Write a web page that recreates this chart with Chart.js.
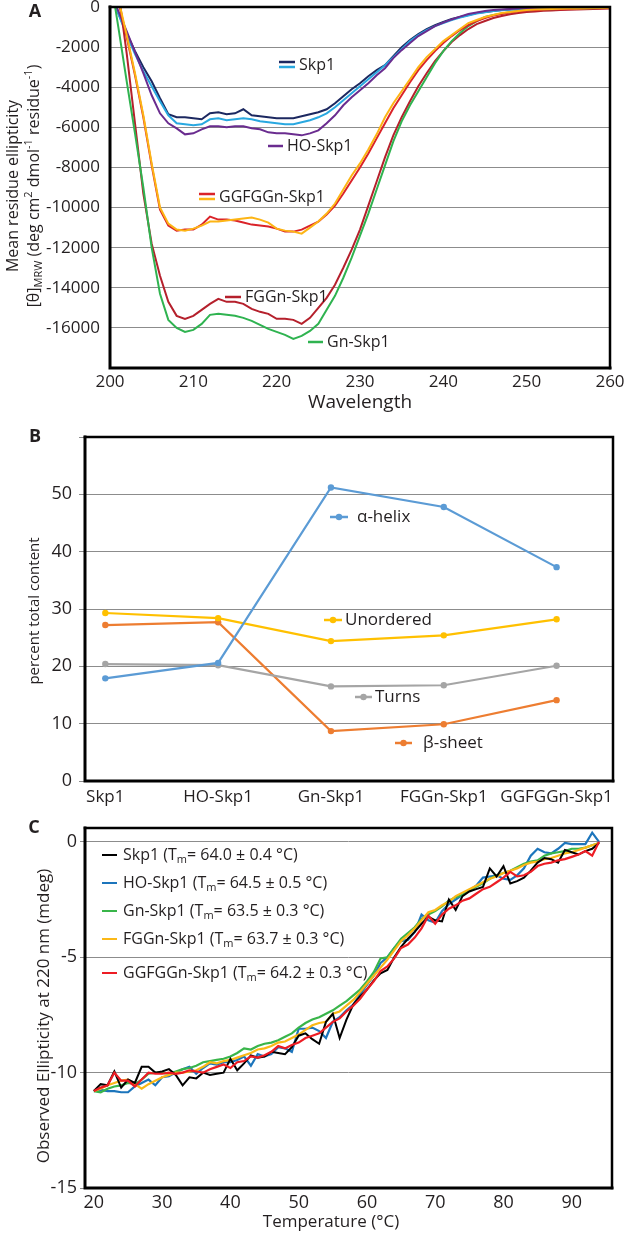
<!DOCTYPE html>
<html>
<head>
<meta charset="utf-8">
<script src="https://cdn.jsdelivr.net/npm/chart.js@4.4.1/dist/chart.umd.min.js"></script>
<style>
  html, body { margin: 0; padding: 0; background: #fff; }
  #page { position: relative; width: 625px; height: 1235px; overflow: hidden; background: #fff; }
  #page canvas { position: absolute; left: 0; }
</style>
</head>
<body>
<div id="page">
  <canvas id="chartA" width="625" height="415" style="top:0px"></canvas>
  <canvas id="chartB" width="625" height="395" style="top:415px"></canvas>
  <canvas id="chartC" width="625" height="425" style="top:810px"></canvas>
</div>
<script>
// ---- Panel A: CD spectra (mean residue ellipticity vs wavelength) ----
const wavelengths = [200, 201, 202, 203, 204, 205, 206, 207, 208, 209, 210, 211, 212, 213, 214, 215, 216, 217, 218, 219,
  220, 221, 222, 223, 224, 225, 226, 227, 228, 229, 230, 231, 232, 233, 234, 235, 236, 237, 238, 239,
  240, 241, 242, 243, 244, 245, 246, 247, 248, 249, 250, 251, 252, 253, 254, 255, 256, 257, 258, 259, 260];

const skp1Dark = [800, -300, -1300, -2200, -3000, -3700, -4550, -5350, -5500, -5500, -5550, -5600, -5300, -5250, -5350, -5300, -5100, -5400, -5450, -5500,
  -5550, -5550, -5550, -5450, -5350, -5250, -5100, -4800, -4450, -4100, -3800, -3450, -3150, -2900, -2450, -2000, -1650, -1350, -1100, -900,
  -750, -600, -500, -400, -300, -250, -200, -150, -120, -100, -80, -60, -50, -50, -40, -40, -30, -30, -20, -20, -10];
const skp1Light = [800, -350, -1400, -2350, -3200, -3950, -4700, -5400, -5800, -5850, -5900, -5850, -5600, -5550, -5650, -5600, -5550, -5600, -5700, -5750,
  -5800, -5850, -5850, -5750, -5650, -5500, -5300, -5000, -4650, -4300, -3950, -3600, -3250, -2900, -2500, -2100, -1700, -1400, -1150, -950,
  -800, -650, -520, -420, -330, -260, -200, -160, -130, -100, -80, -60, -50, -50, -40, -40, -30, -30, -20, -20, -10];
const hoSkp1 = [800, -200, -1200, -2250, -3300, -4400, -5300, -5800, -6050, -6350, -6300, -6100, -5950, -5950, -6000, -5950, -5950, -6050, -6100, -6250,
  -6300, -6300, -6350, -6400, -6300, -6150, -5800, -5400, -4900, -4500, -4150, -3800, -3400, -3050, -2550, -2150, -1800, -1450, -1200, -950,
  -780, -620, -480, -350, -270, -200, -150, -120, -100, -80, -60, -50, -40, -40, -30, -30, -20, -20, -10, -10, 0];
const ggfggnRed = [1800, 300, -1500, -3400, -5500, -7900, -10100, -10900, -11150, -11100, -11100, -10850, -10450, -10600, -10600, -10650, -10750, -10850, -10900, -10950,
  -11050, -11200, -11200, -11100, -10900, -10700, -10350, -9900, -9300, -8650, -8000, -7300, -6550, -5800, -5050, -4400, -3750, -3150, -2650, -2200,
  -1800, -1450, -1150, -900, -700, -550, -430, -350, -280, -230, -190, -160, -140, -120, -110, -100, -90, -80, -70, -60, -50];
const ggfggnYellow = [1800, 400, -1400, -3300, -5400, -7800, -10000, -10800, -11100, -11150, -11050, -10900, -10700, -10700, -10650, -10600, -10550, -10500, -10600, -10750,
  -11050, -11150, -11200, -11300, -11000, -10700, -10300, -9800, -9100, -8400, -7800, -7100, -6350, -5500, -4800, -4200, -3600, -3000, -2500, -2100,
  -1700, -1400, -1100, -800, -650, -500, -400, -300, -250, -200, -150, -130, -110, -100, -90, -80, -70, -60, -50, -50, -40];
const fggnSkp1 = [2000, 800, -2300, -5800, -9300, -11800, -13400, -14700, -15400, -15550, -15400, -15100, -14800, -14550, -14700, -14700, -14800, -15050, -15200, -15300,
  -15550, -15550, -15600, -15800, -15500, -15000, -14500, -13850, -13000, -12100, -11100, -9900, -8700, -7500, -6400, -5500, -4700, -3950, -3300, -2700,
  -2200, -1750, -1400, -1100, -850, -700, -550, -450, -360, -300, -250, -220, -190, -170, -150, -140, -130, -110, -100, -90, -80];
const gnSkp1 = [1600, -1000, -3700, -6300, -9000, -12000, -14300, -15600, -16000, -16200, -16100, -15800, -15350, -15300, -15350, -15400, -15500, -15650, -15850, -16050,
  -16200, -16350, -16550, -16400, -16150, -15800, -15100, -14400, -13500, -12500, -11400, -10300, -9100, -7900, -6700, -5700, -4900, -4200, -3500, -2800,
  -2200, -1700, -1300, -950, -700, -500, -400, -320, -260, -200, -170, -150, -130, -110, -100, -90, -80, -70, -60, -50, -50];

// ---- Panel B: secondary structure content ----
const constructs = ['Skp1', 'HO-Skp1', 'Gn-Skp1', 'FGGn-Skp1', 'GGFGGn-Skp1'];
const alphaHelix = [17.9, 20.6, 51.2, 47.8, 37.3];
const unordered = [29.3, 28.4, 24.4, 25.4, 28.2];
const turns = [20.4, 20.2, 16.5, 16.7, 20.1];
const betaSheet = [27.2, 27.7, 8.7, 9.9, 14.1];

// ---- Panel C: thermal melts at 220 nm ----
const temps = [20, 21, 22, 23, 24, 25, 26, 27, 28, 29, 30, 31, 32, 33, 34, 35, 36, 37, 38, 39,
  40, 41, 42, 43, 44, 45, 46, 47, 48, 49, 50, 51, 52, 53, 54, 55, 56, 57, 58, 59,
  60, 61, 62, 63, 64, 65, 66, 67, 68, 69, 70, 71, 72, 73, 74, 75, 76, 77, 78, 79,
  80, 81, 82, 83, 84, 85, 86, 87, 88, 89, 90, 91, 92, 93, 94];
const meltSkp1 = [-10.8, -10.5, -10.55, -9.95, -10.65, -10.3, -10.45, -9.75, -9.75, -10.0, -9.95, -9.85, -10.1, -10.55, -10.2, -10.25, -10.0, -10.1, -10.05, -10.0,
  -9.4, -9.9, -9.6, -9.25, -9.35, -9.3, -9.1, -9.15, -9.2, -8.9, -8.4, -8.3, -8.55, -8.75, -7.8, -7.45, -8.5, -7.7, -7.05, -6.7,
  -6.4, -6.0, -5.7, -5.55, -5.0, -4.55, -4.2, -3.9, -3.55, -3.25, -3.4, -3.45, -2.5, -2.95, -2.35, -2.15, -2.05, -1.95, -1.15, -1.5,
  -1.05, -1.8, -1.7, -1.55, -1.25, -0.9, -0.7, -0.75, -0.9, -0.35, -0.45, -0.55, -0.4, -0.3, -0.05];
const meltHO = [-10.8, -10.75, -10.8, -10.8, -10.85, -10.85, -10.6, -10.45, -10.3, -10.55, -10.2, -10.15, -10.0, -9.85, -9.75, -10.05, -9.8, -9.6, -9.65, -9.55,
  -9.55, -9.45, -9.3, -9.7, -9.2, -9.3, -9.2, -8.9, -8.95, -9.1, -8.1, -8.1, -8.05, -8.2, -8.5, -7.8, -7.6, -7.3, -7.05, -6.6,
  -6.2, -5.8, -5.25, -5.0, -4.6, -4.3, -4.25, -3.9, -3.15, -3.4, -3.5, -3.0, -2.7, -2.5, -2.3, -2.1, -1.9, -1.55, -1.5, -1.45,
  -1.6, -1.65, -1.45, -1.15, -0.6, -0.3, -0.45, -0.5, -0.3, -0.05, -0.1, -0.1, -0.1, 0.4, 0.0];
const meltGn = [-10.8, -10.85, -10.7, -10.6, -10.55, -10.45, -10.5, -10.3, -10.05, -10.0, -10.0, -10.05, -9.95, -9.85, -9.8, -9.7, -9.55, -9.5, -9.45, -9.4,
  -9.3, -9.15, -8.95, -9.0, -8.85, -8.75, -8.7, -8.6, -8.45, -8.3, -8.05, -7.85, -7.7, -7.6, -7.45, -7.3, -7.1, -6.9, -6.65, -6.4,
  -6.05, -5.65, -5.05, -5.0, -4.6, -4.2, -3.95, -3.7, -3.35, -3.15, -3.0, -2.8, -2.55, -2.4, -2.3, -2.1, -1.95, -1.8, -1.6, -1.45,
  -1.35, -1.25, -1.1, -0.95, -0.85, -0.8, -0.6, -0.5, -0.45, -0.4, -0.3, -0.3, -0.25, -0.15, -0.05];
const meltFGGn = [-10.8, -10.7, -10.55, -10.45, -10.35, -10.3, -10.5, -10.7, -10.5, -10.35, -10.2, -10.1, -10.0, -10.0, -9.95, -9.9, -9.75, -9.55, -9.6, -9.5,
  -9.45, -9.35, -9.25, -9.15, -9.0, -8.95, -8.85, -8.7, -8.65, -8.5, -8.35, -8.15, -7.95, -7.85, -7.8, -7.45, -7.35, -7.1, -6.85, -6.5,
  -6.15, -5.8, -5.45, -5.1, -4.7, -4.3, -4.05, -3.75, -3.4, -3.05, -2.95, -2.75, -2.6, -2.35, -2.2, -2.05, -1.9, -1.75, -1.6, -1.5,
  -1.35, -1.25, -1.15, -1.0, -0.9, -0.85, -0.75, -0.7, -0.6, -0.5, -0.45, -0.35, -0.25, -0.15, -0.05];
const meltGGFGGn = [-10.8, -10.65, -10.55, -10.0, -10.35, -10.35, -10.6, -10.3, -10.0, -10.05, -10.05, -10.0, -10.05, -10.0, -9.9, -9.95, -10.0, -9.85, -9.75, -9.65,
  -9.8, -9.55, -9.5, -9.3, -9.35, -9.25, -9.1, -8.85, -8.95, -8.8, -8.7, -8.5, -8.4, -8.3, -8.05, -7.8, -7.65, -7.35, -7.1, -6.8,
  -6.4, -6.05, -5.6, -5.4, -5.05, -4.6, -4.45, -4.15, -3.75, -3.2, -3.55, -3.15, -2.9, -2.75, -2.55, -2.45, -2.25, -2.05, -1.95, -1.75,
  -1.55, -1.3, -1.5, -1.45, -1.3, -1.05, -0.95, -0.9, -0.8, -0.75, -0.65, -0.55, -0.4, -0.6, 0.0];

const ink = '#231f20';
const gridGray = '#8c8c8c';
const FONT = '"Open Sans", "DejaVu Sans", sans-serif';

Chart.defaults.font.family = FONT;
Chart.defaults.color = ink;

function xy(xs, ys) {
  return xs.map((x, i) => ({ x: x, y: ys[i] }));
}

function line(label, xs, ys, color, width) {
  return {
    label: label,
    data: xy(xs, ys),
    borderColor: color,
    backgroundColor: color,
    borderWidth: width || 2,
    pointRadius: 0,
    tension: 0,
    fill: false
  };
}

// fix axis size so the plot area sits where the original has it
function fixSize(size) {
  return function(scale) {
    if (scale.isHorizontal()) scale.height = size; else scale.width = size;
    scale.paddingLeft = 0; scale.paddingRight = 0;
    scale.paddingTop = 0; scale.paddingBottom = 0;
  };
}

// text with sub/superscripts
function drawNote(ctx, n) {
  const size = n.size || 16;
  const segs = n.segs || [[n.text, '']];
  const fontFor = kind => (n.bold ? 'bold ' : '') + (kind ? Math.round(size * 0.68) : size) + 'px ' + FONT;
  let total = 0;
  segs.forEach(s => { ctx.font = fontFor(s[1]); total += ctx.measureText(s[0]).width; });
  ctx.save();
  ctx.translate(n.x, n.y);
  if (n.rot) ctx.rotate(n.rot * Math.PI / 180);
  ctx.fillStyle = n.color || ink;
  ctx.textBaseline = 'middle';
  ctx.textAlign = 'left';
  let x = n.align === 'left' ? 0 : -total / 2;
  segs.forEach(s => {
    ctx.font = fontFor(s[1]);
    const dy = s[1] === 'sub' ? size * 0.32 : (s[1] === 'sup' ? -size * 0.32 : 0);
    ctx.fillText(s[0], x, dy);
    x += ctx.measureText(s[0]).width;
  });
  ctx.restore();
}

function overlayPlugin(cfg) {
  return {
    id: 'overlay',
    afterDatasetsDraw(chart) {
      const ctx = chart.ctx;
      const a = chart.chartArea;
      ctx.save();
      ctx.strokeStyle = '#000';
      ctx.lineCap = 'square';
      ctx.lineWidth = 2.5;
      ctx.beginPath();
      ctx.moveTo(a.left, a.top); ctx.lineTo(a.right, a.top); ctx.lineTo(a.right, a.bottom);
      ctx.stroke();
      ctx.lineWidth = 3;
      ctx.beginPath();
      ctx.moveTo(a.left, a.top); ctx.lineTo(a.left, a.bottom); ctx.lineTo(a.right, a.bottom);
      ctx.stroke();
      ctx.lineCap = 'butt';
      (cfg.keys || []).forEach(k => {
        ctx.strokeStyle = k.color;
        ctx.lineWidth = k.width || 2.5;
        ctx.beginPath(); ctx.moveTo(k.x1, k.y); ctx.lineTo(k.x2, k.y); ctx.stroke();
        if (k.dot) {
          ctx.fillStyle = k.color;
          ctx.beginPath(); ctx.arc((k.x1 + k.x2) / 2, k.y, 3.2, 0, Math.PI * 2); ctx.fill();
        }
      });
      (cfg.notes || []).forEach(n => drawNote(ctx, n));
      ctx.restore();
    }
  };
}

const baseOptions = {
  responsive: false,
  animation: false,
  devicePixelRatio: 1,
  events: []
};

// ---------- A ----------
new Chart(document.getElementById('chartA'), {
  type: 'line',
  data: {
    datasets: [
      line('GGFGGn-Skp1', wavelengths, ggfggnYellow, '#fdb515'),
      line('GGFGGn-Skp1', wavelengths, ggfggnRed, '#da2329'),
      line('Gn-Skp1', wavelengths, gnSkp1, '#2fb350'),
      line('FGGn-Skp1', wavelengths, fggnSkp1, '#b5202c'),
      line('HO-Skp1', wavelengths, hoSkp1, '#6a2c8f'),
      line('Skp1', wavelengths, skp1Light, '#29a8e0'),
      line('Skp1', wavelengths, skp1Dark, '#1c2860')
    ]
  },
  options: Object.assign({}, baseOptions, {
    layout: { padding: { top: 7, right: 15, bottom: 0, left: 0 } },
    plugins: { legend: { display: false }, tooltip: { enabled: false } },
    scales: {
      x: {
        type: 'linear', min: 200, max: 260,
        afterFit: fixSize(47),
        border: { display: false },
        grid: { display: false, drawTicks: false },
        ticks: { stepSize: 10, padding: 4, font: { size: 17 }, color: ink, callback: v => String(v) },
        title: { display: true, text: 'Wavelength', font: { size: 19 }, color: ink, padding: { top: 0, bottom: 1.5 } }
      },
      y: {
        min: -18000, max: 0,
        afterFit: fixSize(110),
        border: { display: false },
        grid: { color: gridGray, lineWidth: 1, drawTicks: false },
        ticks: { stepSize: 2000, padding: 10, font: { size: 17 }, color: ink, callback: v => v === -18000 ? '' : String(v) }
      }
    }
  }),
  plugins: [overlayPlugin({
    keys: [
      { x1: 279, x2: 295, y: 62, color: '#1c2860' },
      { x1: 279, x2: 295, y: 67, color: '#29a8e0' },
      { x1: 268, x2: 283, y: 146, color: '#6a2c8f' },
      { x1: 199, x2: 215, y: 194, color: '#da2329' },
      { x1: 199, x2: 215, y: 199, color: '#fdb515' },
      { x1: 225, x2: 241, y: 297, color: '#b5202c' },
      { x1: 308, x2: 323, y: 342, color: '#2fb350' }
    ],
    notes: [
      { text: 'A', x: 35, y: 12, size: 18, bold: true },
      { text: 'Skp1', x: 299, y: 65, align: 'left' },
      { text: 'HO-Skp1', x: 287, y: 146, align: 'left' },
      { text: 'GGFGGn-Skp1', x: 219, y: 197, align: 'left' },
      { text: 'FGGn-Skp1', x: 245, y: 297, align: 'left' },
      { text: 'Gn-Skp1', x: 327, y: 342, align: 'left' },
      { text: 'Mean residue ellipticity', x: 13, y: 186, rot: -90, size: 16 },
      { segs: [['[θ]', ''], ['MRW', 'sub'], [' (deg cm', ''], ['2', 'sup'], [' dmol', ''], ['-1', 'sup'], [' residue', ''], ['-1', 'sup'], [')', '']],
        x: 34, y: 186, rot: -90, size: 16 }
    ]
  })]
});

// ---------- B ----------
function pointLine(label, ys, color) {
  return {
    label: label,
    data: xy([0, 1, 2, 3, 4], ys),
    borderColor: color,
    backgroundColor: color,
    borderWidth: 2.2,
    pointRadius: 3.2,
    pointBorderWidth: 0,
    pointBackgroundColor: color,
    tension: 0,
    fill: false
  };
}

new Chart(document.getElementById('chartB'), {
  type: 'line',
  data: {
    datasets: [
      pointLine('α-helix', alphaHelix, '#5b9bd5'),
      pointLine('Unordered', unordered, '#ffc000'),
      pointLine('Turns', turns, '#a5a5a5'),
      pointLine('β-sheet', betaSheet, '#ed7d31')
    ]
  },
  options: Object.assign({}, baseOptions, {
    layout: { padding: { top: 22, right: 12, bottom: 0, left: 0 } },
    plugins: { legend: { display: false }, tooltip: { enabled: false } },
    scales: {
      x: {
        type: 'linear', min: -0.18, max: 4.5,
        afterFit: fixSize(29),
        border: { display: false },
        grid: { display: false, drawTicks: false },
        ticks: {
          stepSize: 1, includeBounds: false, autoSkip: false, maxRotation: 0,
          padding: 6, font: { size: 17 }, color: ink,
          callback: v => (Number.isInteger(v) && constructs[v]) ? constructs[v] : ''
        }
      },
      y: {
        min: 0, max: 60,
        afterFit: fixSize(85),
        border: { display: false },
        grid: { color: gridGray, lineWidth: 1, drawTicks: true, tickLength: 6, tickColor: gridGray },
        ticks: { stepSize: 10, padding: 7, font: { size: 18 }, color: ink, callback: v => v === 60 ? '' : String(v) }
      }
    }
  }),
  plugins: [overlayPlugin({
    keys: [
      { x1: 330, x2: 348, y: 102, color: '#5b9bd5', dot: true },
      { x1: 324, x2: 342, y: 205, color: '#ffc000', dot: true },
      { x1: 355, x2: 372, y: 282, color: '#a5a5a5', dot: true },
      { x1: 395, x2: 412, y: 328, color: '#ed7d31', dot: true }
    ],
    notes: [
      { text: 'B', x: 35, y: 22, size: 18, bold: true },
      { text: 'α-helix', x: 357, y: 102, align: 'left', size: 17 },
      { text: 'Unordered', x: 345, y: 205, align: 'left', size: 17 },
      { text: 'Turns', x: 375, y: 282, align: 'left', size: 17 },
      { text: 'β-sheet', x: 423, y: 328, align: 'left', size: 17 },
      { text: 'percent total content', x: 35, y: 196, rot: -90, size: 15 }
    ]
  })]
});

// ---------- C ----------
const meltColors = { skp1: '#000000', ho: '#1c75bc', gn: '#39b54a', fggn: '#fbb817', ggfggn: '#ed1c24' };

new Chart(document.getElementById('chartC'), {
  type: 'line',
  data: {
    datasets: [
      line('GGFGGn-Skp1', temps, meltGGFGGn, meltColors.ggfggn, 2.2),
      line('Skp1', temps, meltSkp1, meltColors.skp1, 2),
      line('FGGn-Skp1', temps, meltFGGn, meltColors.fggn, 2.2),
      line('Gn-Skp1', temps, meltGn, meltColors.gn, 2.2),
      line('HO-Skp1', temps, meltHO, meltColors.ho, 2.2)
    ]
  },
  options: Object.assign({}, baseOptions, {
    layout: { padding: { top: 18, right: 13, bottom: 0, left: 0 } },
    plugins: { legend: { display: false }, tooltip: { enabled: false } },
    scales: {
      x: {
        type: 'linear', min: 18.7, max: 95.9,
        afterFit: fixSize(47),
        border: { display: false },
        grid: { display: false, drawTicks: false },
        ticks: { stepSize: 10, includeBounds: false, padding: 4, font: { size: 18 }, color: ink, callback: v => String(v) }
      },
      y: {
        min: -15, max: 0.6,
        afterFit: fixSize(85),
        border: { display: false },
        grid: { color: gridGray, lineWidth: 1, drawTicks: true, tickLength: 5, tickColor: gridGray },
        ticks: { stepSize: 5, includeBounds: false, padding: 3, font: { size: 18 }, color: ink, callback: v => String(v) }
      }
    }
  }),
  plugins: [overlayPlugin({
    keys: [
      { x1: 102, x2: 117, y: 45, color: meltColors.skp1, width: 2 },
      { x1: 102, x2: 117, y: 73, color: meltColors.ho, width: 2 },
      { x1: 102, x2: 117, y: 101, color: meltColors.gn, width: 2 },
      { x1: 102, x2: 117, y: 129, color: meltColors.fggn, width: 2 },
      { x1: 102, x2: 117, y: 163, color: meltColors.ggfggn, width: 2 }
    ],
    notes: [
      { text: 'C', x: 34, y: 18, size: 18, bold: true },
      { segs: [['Skp1 (T', ''], ['m', 'sub'], ['= 64.0 ± 0.4 °C)', '']], x: 123, y: 45, align: 'left', size: 16 },
      { segs: [['HO-Skp1 (T', ''], ['m', 'sub'], ['= 64.5 ± 0.5 °C)', '']], x: 123, y: 73, align: 'left', size: 16 },
      { segs: [['Gn-Skp1 (T', ''], ['m', 'sub'], ['= 63.5 ± 0.3 °C)', '']], x: 123, y: 101, align: 'left', size: 16 },
      { segs: [['FGGn-Skp1 (T', ''], ['m', 'sub'], ['= 63.7 ± 0.3 °C)', '']], x: 123, y: 129, align: 'left', size: 16 },
      { segs: [['GGFGGn-Skp1 (T', ''], ['m', 'sub'], ['= 64.2 ± 0.3 °C)', '']], x: 123, y: 163, align: 'left', size: 16 },
      { text: 'Observed Ellipticity at 220 nm (mdeg)', x: 44, y: 206, rot: -90, size: 17 },
      { text: 'Temperature (°C)', x: 331, y: 412, size: 17 }
    ]
  })]
});
</script>
</body>
</html>
